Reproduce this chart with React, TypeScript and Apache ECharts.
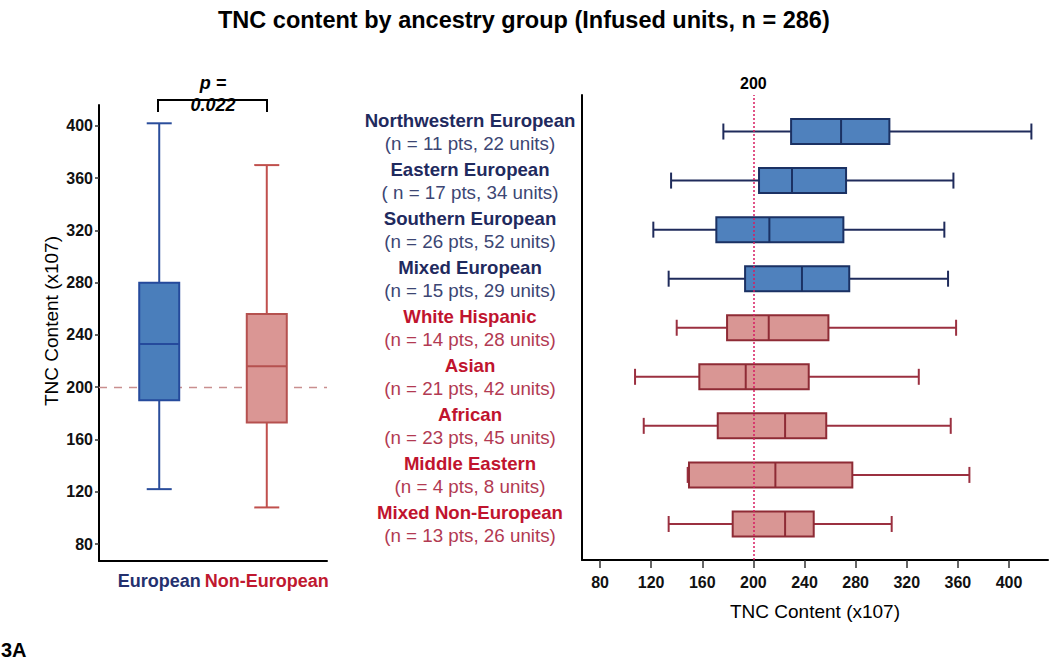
import React, { useEffect, useRef } from "react";
import * as echarts from "echarts";

const FONT = "'Liberation Sans', Arial, Helvetica, sans-serif";

// Left panel: pooled groups
const leftCats = ["European", "Non-European"];
const leftLow = [122, 108];
const leftQ1 = [190, 173];
const leftMed = [233, 216];
const leftQ3 = [280, 256];
const leftHigh = [402, 370];
const leftYTicks = [80, 120, 160, 200, 240, 280, 320, 360, 400];

// Right panel: ancestry groups
const rightCats = [
  "Northwestern European",
  "Eastern European",
  "Southern European",
  "Mixed European",
  "White Hispanic",
  "Asian",
  "African",
  "Middle Eastern",
  "Mixed Non-European",
];
const rightSubs = [
  "(n = 11 pts, 22 units)",
  "( n = 17 pts, 34 units)",
  "(n = 26 pts, 52 units)",
  "(n = 15 pts, 29 units)",
  "(n = 14 pts, 28 units)",
  "(n = 21 pts, 42 units)",
  "(n = 23 pts, 45 units)",
  "(n = 4 pts, 8 units)",
  "(n = 13 pts, 26 units)",
];
const rightGroup = ["E", "E", "E", "E", "N", "N", "N", "N", "N"];
const rightLow = [176.5, 135.6, 121.7, 133.7, 140, 107.4, 114.2, 148.6, 133.7];
const rightQ1 = [229.5, 204.4, 171, 193.5, 179.4, 157.7, 172.1, 149.6, 183.8];
const rightMed = [268.6, 230.2, 212.5, 238, 212, 194, 224.8, 217.2, 224.8];
const rightQ3 = [306.4, 272.5, 270.4, 275, 258.7, 243.3, 257, 277.4, 247.2];
const rightHigh = [417.5, 356.5, 349.4, 352.3, 358.6, 329.4, 354.4, 369, 308.2];
const rightXTicks = [80, 120, 160, 200, 240, 280, 320, 360, 400];

const referenceValue = 200;

const LEFT_STYLE = [
  { fill: "#4a7ebb", border: "#254a9c", whisker: "#2a4d9b" },
  { fill: "#da9694", border: "#b5514f", whisker: "#c0504d" },
];
const RIGHT_STYLE: Record<string, { fill: string; border: string; whisker: string }> = {
  E: { fill: "#4f81bd", border: "#1b3163", whisker: "#1f2b5b" },
  N: { fill: "#d99694", border: "#8e2b35", whisker: "#9b3040" },
};

export default function App() {
  const ref = useRef<HTMLDivElement>(null);

  useEffect(() => {
    if (!ref.current) return;
    const chart = echarts.init(ref.current, undefined, { renderer: "svg" });

    const leftData = leftCats.map((_, i) => [i, leftLow[i], leftQ1[i], leftMed[i], leftQ3[i], leftHigh[i]]);
    const rightData = rightCats.map((_, i) => [i, rightLow[i], rightQ1[i], rightMed[i], rightQ3[i], rightHigh[i]]);

    const option: any = {
      animation: false,
      backgroundColor: "#ffffff",
      textStyle: { fontFamily: FONT },
      title: {
        text: "TNC content by ancestry group (Infused units, n = 286)",
        left: 213,
        top: 3,
        textStyle: { fontFamily: FONT, fontSize: 23.5, fontWeight: "bold", color: "#000" },
      },
      grid: [
        { left: 99, right: 723, top: 105, bottom: 101 },
        { left: 582, right: 2, top: 95, bottom: 102 },
        { left: 582, right: 2, top: 107, bottom: 113.5 },
      ],
      xAxis: [
        {
          gridIndex: 0,
          type: "value",
          min: -0.56,
          max: 1.56,
          axisLine: { show: true, onZero: false, lineStyle: { color: "#000", width: 2 } },
          axisTick: { show: false },
          splitLine: { show: false },
          axisLabel: {
            customValues: [0, 1],
            margin: 11,
            formatter: (v: number) => (Math.round(v) === 0 ? `{eu|${leftCats[0]}}` : `{ne|${leftCats[1]}}`),
            rich: {
              eu: { fontFamily: FONT, fontSize: 18, fontWeight: "bold", color: "#24306e" },
              ne: { fontFamily: FONT, fontSize: 18, fontWeight: "bold", color: "#c0182f" },
            },
          },
        },
        {
          gridIndex: 1,
          type: "value",
          min: 65.9,
          max: 430.5,
          axisLine: { show: true, onZero: false, lineStyle: { color: "#000", width: 2 } },
          axisTick: { show: true, length: 8, customValues: rightXTicks, lineStyle: { color: "#333", width: 1.5 } },
          splitLine: { show: false },
          axisLabel: {
            customValues: rightXTicks,
            margin: 14,
            fontFamily: FONT,
            fontSize: 16,
            fontWeight: "bold",
            color: "#111",
          },
          name: "TNC Content (x107)",
          nameLocation: "middle",
          nameGap: 42,
          nameTextStyle: { fontFamily: FONT, fontSize: 19, color: "#000" },
        },
        {
          gridIndex: 2,
          type: "value",
          min: 65.9,
          max: 430.5,
          show: false,
        },
      ],
      yAxis: [
        {
          gridIndex: 0,
          type: "value",
          min: 67,
          max: 416,
          axisLine: { show: true, onZero: false, lineStyle: { color: "#000", width: 2 } },
          axisTick: { show: true, length: 4, customValues: leftYTicks, lineStyle: { color: "#333", width: 1.5 } },
          splitLine: { show: false },
          axisLabel: {
            customValues: leftYTicks,
            margin: 6,
            fontFamily: FONT,
            fontSize: 16,
            fontWeight: "bold",
            color: "#111",
          },
          name: "TNC Content (x107)",
          nameLocation: "middle",
          nameGap: 38,
          nameRotate: 90,
          nameTextStyle: { fontFamily: FONT, fontSize: 19, color: "#000", padding: [0, 0, 0, 24] },
        },
        {
          gridIndex: 1,
          type: "value",
          min: 0,
          max: 1,
          axisLine: { show: true, onZero: false, lineStyle: { color: "#000", width: 2 } },
          axisTick: { show: false },
          axisLabel: { show: false },
          splitLine: { show: false },
        },
        {
          gridIndex: 2,
          type: "category",
          data: rightCats,
          inverse: true,
          axisLine: { show: false },
          axisTick: { show: false },
          splitLine: { show: false },
          axisLabel: {
            align: "center",
            margin: 112,
            formatter: (value: string, idx: number) => {
              const g = rightGroup[idx] === "E" ? "B" : "R";
              return `{n${g}|${value}}\n{s${g}|${rightSubs[idx]}}`;
            },
            rich: {
              nB: { fontFamily: FONT, fontSize: 18.6, fontWeight: "bold", color: "#1f2a5e", lineHeight: 23, align: "center" },
              sB: { fontFamily: FONT, fontSize: 18.8, color: "#3c4673", lineHeight: 23, align: "center" },
              nR: { fontFamily: FONT, fontSize: 18.6, fontWeight: "bold", color: "#c0142e", lineHeight: 23, align: "center" },
              sR: { fontFamily: FONT, fontSize: 18.8, color: "#b23a52", lineHeight: 23, align: "center" },
            },
          },
        },
      ],
      series: [
        {
          type: "line",
          xAxisIndex: 0,
          yAxisIndex: 0,
          data: [],
          z: 1,
          markLine: {
            z: 1,
            silent: true,
            symbol: ["none", "none"],
            label: { show: false },
            lineStyle: { type: [8, 7], color: "#c98f8f", width: 1.3 },
            data: [{ yAxis: referenceValue }],
          },
        },
        {
          type: "custom",
          name: "Pooled",
          xAxisIndex: 0,
          yAxisIndex: 0,
          z: 3,
          encode: { x: 0, y: [1, 2, 3, 4, 5] },
          data: leftData,
          renderItem: (params: any, api: any) => {
            const idx = api.value(0);
            const x = api.coord([idx, 200])[0];
            const ys = [1, 2, 3, 4, 5].map((d) => api.coord([idx, api.value(d)])[1]);
            const st = LEFT_STYLE[idx];
            const w = 40;
            const capW = 25;
            return {
              type: "group",
              children: [
                { type: "line", shape: { x1: x, y1: ys[0], x2: x, y2: ys[1] }, style: { stroke: st.whisker, lineWidth: 2 } },
                { type: "line", shape: { x1: x, y1: ys[3], x2: x, y2: ys[4] }, style: { stroke: st.whisker, lineWidth: 2 } },
                { type: "line", shape: { x1: x - capW / 2, y1: ys[0], x2: x + capW / 2, y2: ys[0] }, style: { stroke: st.whisker, lineWidth: 2 } },
                { type: "line", shape: { x1: x - capW / 2, y1: ys[4], x2: x + capW / 2, y2: ys[4] }, style: { stroke: st.whisker, lineWidth: 2 } },
                {
                  type: "rect",
                  shape: { x: x - w / 2, y: ys[3], width: w, height: ys[1] - ys[3] },
                  style: { fill: st.fill, stroke: st.border, lineWidth: 2 },
                },
                { type: "line", shape: { x1: x - w / 2, y1: ys[2], x2: x + w / 2, y2: ys[2] }, style: { stroke: st.border, lineWidth: 2 } },
              ],
            };
          },
        },
        {
          type: "line",
          xAxisIndex: 1,
          yAxisIndex: 1,
          data: [],
          z: 5,
          markLine: {
            z: 6,
            silent: true,
            symbol: ["none", "none"],
            lineStyle: { type: [2, 2], color: "#d81b60", width: 1.5 },
            label: {
              show: true,
              position: "end",
              formatter: String(referenceValue),
              fontFamily: FONT,
              fontSize: 16,
              fontWeight: "bold",
              color: "#000",
              distance: 4,
            },
            data: [{ xAxis: referenceValue }],
          },
        },
        {
          type: "custom",
          name: "Ancestry",
          xAxisIndex: 2,
          yAxisIndex: 2,
          z: 3,
          encode: { x: [1, 2, 3, 4, 5], y: 0 },
          data: rightData,
          renderItem: (params: any, api: any) => {
            const idx = api.value(0);
            const y = api.coord([200, idx])[1];
            const xs = [1, 2, 3, 4, 5].map((d) => api.coord([api.value(d), idx])[0]);
            const st = RIGHT_STYLE[rightGroup[idx]];
            const h = 25;
            const capH = 16;
            return {
              type: "group",
              children: [
                { type: "line", shape: { x1: xs[0], y1: y, x2: xs[1], y2: y }, style: { stroke: st.whisker, lineWidth: 2 } },
                { type: "line", shape: { x1: xs[3], y1: y, x2: xs[4], y2: y }, style: { stroke: st.whisker, lineWidth: 2 } },
                { type: "line", shape: { x1: xs[0], y1: y - capH / 2, x2: xs[0], y2: y + capH / 2 }, style: { stroke: st.whisker, lineWidth: 2 } },
                { type: "line", shape: { x1: xs[4], y1: y - capH / 2, x2: xs[4], y2: y + capH / 2 }, style: { stroke: st.whisker, lineWidth: 2 } },
                {
                  type: "rect",
                  shape: { x: xs[1], y: y - h / 2, width: xs[3] - xs[1], height: h },
                  style: { fill: st.fill, stroke: st.border, lineWidth: 2 },
                },
                { type: "line", shape: { x1: xs[2], y1: y - h / 2, x2: xs[2], y2: y + h / 2 }, style: { stroke: st.border, lineWidth: 2 } },
              ],
            };
          },
        },
      ],
      graphic: [
        {
          type: "polyline",
          shape: { points: [[158, 112], [158, 100], [267, 100], [267, 112]] },
          style: { stroke: "#000", lineWidth: 2, fill: null },
          z: 10,
        },
        {
          type: "text",
          x: 213,
          y: 83,
          style: {
            text: "p =",
            fontFamily: FONT,
            fontSize: 18,
            fontWeight: "bold",
            fontStyle: "italic",
            fill: "#000",
            align: "center",
            verticalAlign: "middle",
          },
          z: 11,
        },
        {
          type: "text",
          x: 213,
          y: 105,
          style: {
            text: "0.022",
            fontFamily: FONT,
            fontSize: 18,
            fontWeight: "bold",
            fontStyle: "italic",
            fill: "#000",
            align: "center",
            verticalAlign: "middle",
          },
          z: 11,
        },
        {
          type: "text",
          x: 1,
          y: 650,
          style: {
            text: "3A",
            fontFamily: FONT,
            fontSize: 20,
            fontWeight: "bold",
            fill: "#000",
            align: "left",
            verticalAlign: "middle",
          },
        },
      ],
    };

    chart.setOption(option);
    return () => chart.dispose();
  }, []);

  return (
    <div
      ref={ref}
      style={{ position: "fixed", left: 0, top: 0, width: 1050, height: 662, background: "#fff" }}
    />
  );
}
